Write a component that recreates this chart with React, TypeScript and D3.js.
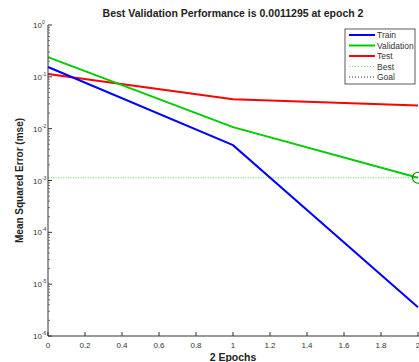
import React from "react";
import * as d3 from "d3";

const epochs = [0, 1, 2];
const trainPerf = [0.155, 0.0048, 3.6e-6];
const valPerf = [0.24, 0.0107, 0.0011295];
const testPerf = [0.113, 0.037, 0.028];
const bestEpoch = 2;
const bestPerf = 0.0011295;
const xTicks = [0, 0.2, 0.4, 0.6, 0.8, 1, 1.2, 1.4, 1.6, 1.8, 2];
const yExponents = [0, -1, -2, -3, -4, -5, -6];

const legendItems = [
  { name: "Train", color: "#0000ff", dash: "", width: 2 },
  { name: "Validation", color: "#00cc00", dash: "", width: 2 },
  { name: "Test", color: "#ff0000", dash: "", width: 2 },
  { name: "Best", color: "#66dd66", dash: "1,2", width: 1 },
  { name: "Goal", color: "#333333", dash: "1,2", width: 1 },
];

const W = 419;
const H = 362;
const font = "'Liberation Sans', Arial, sans-serif";

export default function App() {
  const left = 48;
  const right = 418;
  const top = 25;
  const bottom = 336;

  const x = d3.scaleLinear().domain([0, 2]).range([left, right]);
  const y = d3.scaleLog().domain([1e-6, 1]).range([bottom, top]);

  const line = (vals: number[]) =>
    d3
      .line<number>()
      .x((_, i) => x(epochs[i]))
      .y((d) => y(d))(vals) as string;

  // minor ticks for log axis
  const minor: number[] = [];
  for (let e = -6; e < 0; e++) {
    for (let m = 2; m <= 9; m++) minor.push(m * Math.pow(10, e));
  }

  return (
    <svg
      width={W}
      height={H}
      style={{ position: "absolute", left: 0, top: 0, background: "#fff" }}
      fontFamily={font}
    >
      {/* title */}
      <text
        x={(left + right) / 2}
        y={17}
        textAnchor="middle"
        fontSize={10.5}
        fontWeight="bold"
        fill="#222"
      >
        Best Validation Performance is 0.0011295 at epoch 2
      </text>

      {/* best line */}
      <line
        x1={x(0)}
        x2={x(2)}
        y1={y(bestPerf)}
        y2={y(bestPerf)}
        stroke="#66dd66"
        strokeWidth={1.2}
        strokeDasharray="1,1.5"
      />

      {/* series */}
      <path d={line(testPerf)} fill="none" stroke="#ff0000" strokeWidth={2} />
      <path d={line(valPerf)} fill="none" stroke="#00cc00" strokeWidth={2} />
      <path d={line(trainPerf)} fill="none" stroke="#0000ff" strokeWidth={2} />
      <circle
        cx={x(bestEpoch)}
        cy={y(bestPerf)}
        r={5.5}
        fill="none"
        stroke="#008800"
        strokeWidth={1.2}
      />

      {/* axes */}
      <line x1={left} x2={left} y1={top} y2={bottom} stroke="#333" strokeWidth={1} />
      <line x1={left} x2={W} y1={bottom} y2={bottom} stroke="#333" strokeWidth={1} />

      {yExponents.map((e) => {
        const yy = y(Math.pow(10, e));
        return (
          <g key={e}>
            <line x1={left} x2={left + 4} y1={yy} y2={yy} stroke="#333" />
            <text x={33} y={yy + 3} fontSize={8} fill="#333">
              10
              <tspan dy={-4} fontSize={5}>
                {e}
              </tspan>
            </text>
          </g>
        );
      })}
      {minor.map((v, i) => (
        <line
          key={i}
          x1={left}
          x2={left + 2}
          y1={y(v)}
          y2={y(v)}
          stroke="#555"
          strokeWidth={0.8}
        />
      ))}

      {xTicks.map((t) => (
        <g key={t}>
          <line x1={x(t)} x2={x(t)} y1={bottom} y2={bottom - 4} stroke="#333" />
          <text x={x(t)} y={347.5} textAnchor="middle" fontSize={8} fill="#333">
            {t}
          </text>
        </g>
      ))}

      {/* axis labels */}
      <text
        x={(left + right) / 2}
        y={361}
        textAnchor="middle"
        fontSize={10.5}
        fontWeight="bold"
        fill="#222"
      >
        2 Epochs
      </text>
      <text
        transform={`translate(23,${(top + bottom) / 2}) rotate(-90)`}
        textAnchor="middle"
        fontSize={10}
        fontWeight="bold"
        fill="#222"
      >
        Mean Squared Error  (mse)
      </text>

      {/* legend */}
      <g transform="translate(345,29)">
        <rect x={0} y={0} width={70} height={55} fill="#fff" stroke="#333" strokeWidth={0.8} />
        {legendItems.map((it, i) => (
          <g key={it.name} transform={`translate(0,${6 + i * 10.5})`}>
            <line
              x1={4}
              x2={30}
              y1={0}
              y2={0}
              stroke={it.color}
              strokeWidth={it.width}
              strokeDasharray={it.dash}
            />
            <text x={32} y={3} fontSize={8.5} fill="#333">
              {it.name}
            </text>
          </g>
        ))}
      </g>
    </svg>
  );
}
